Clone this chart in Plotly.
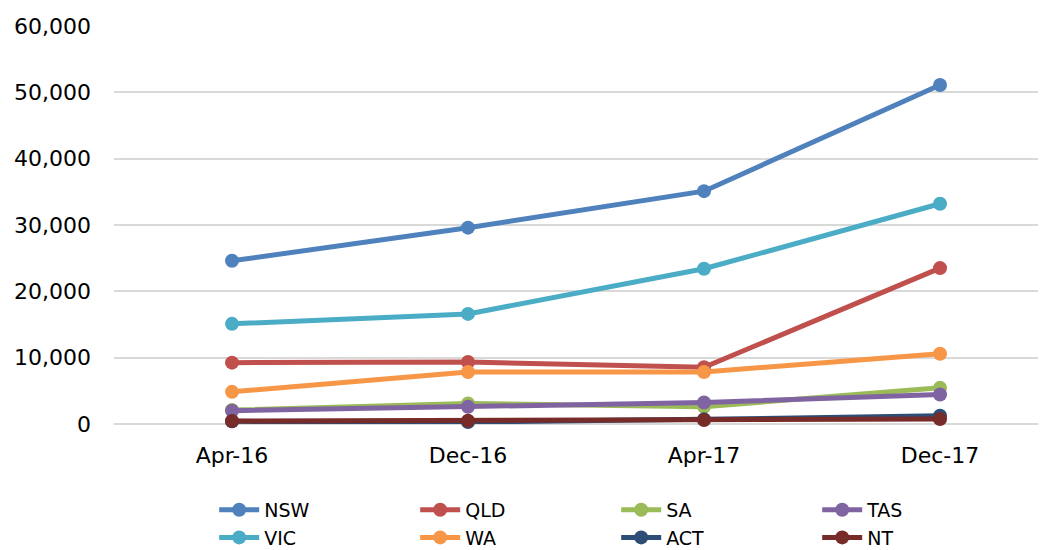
import plotly.graph_objects as go

categories = ["Apr-16", "Dec-16", "Apr-17", "Dec-17"]

NSW = [24600, 29600, 35100, 51100]
QLD = [9250, 9350, 8550, 23500]
SA = [2100, 3100, 2600, 5450]
TAS = [2000, 2600, 3250, 4450]
VIC = [15100, 16600, 23400, 33200]
WA = [4850, 7850, 7850, 10600]
ACT = [400, 300, 700, 1250]
NT = [450, 500, 600, 750]

series = [
    ("NSW", NSW, "#4F81BD"),
    ("QLD", QLD, "#C0504D"),
    ("SA", SA, "#9BBB59"),
    ("TAS", TAS, "#8064A2"),
    ("VIC", VIC, "#4BACC6"),
    ("WA", WA, "#F79646"),
    ("ACT", ACT, "#2C4D75"),
    ("NT", NT, "#772C2A"),
]

fig = go.Figure()
for name, vals, color in series:
    fig.add_trace(go.Scatter(
        x=[0, 1, 2, 3], y=vals, name=name, mode="lines+markers",
        line=dict(color=color, width=5),
        marker=dict(color=color, size=14),
        cliponaxis=False,
    ))

font = dict(family="DejaVu Sans", size=22, color="#000000")
lfont = dict(family="DejaVu Sans", size=19, color="#000000")

fig.update_layout(
    width=1038, height=542,
    margin=dict(l=106, r=0, t=18, b=126, autoexpand=False),
    paper_bgcolor="white", plot_bgcolor="white",
    font=font,
    showlegend=True,
    legend=dict(
        orientation="h", x=0.1075, xanchor="left", y=-0.168, yanchor="top",
        entrywidth=146, entrywidthmode="pixels",
        font=lfont, itemwidth=40, tracegroupgap=0,
    ),
    xaxis=dict(
        range=[-0.5, 3.449], tickmode="array", tickvals=[0, 1, 2, 3],
        ticktext=categories, showgrid=False, zeroline=False, showline=False,
        ticks="", ticklabelstandoff=16, tickfont=font, automargin=False,
    ),
    yaxis=dict(
        range=[0, 60000], tickmode="array",
        tickvals=[0, 10000, 20000, 30000, 40000, 50000, 60000],
        ticktext=["0", "10,000", "20,000", "30,000", "40,000", "50,000", "60,000"],
        showgrid=True, gridcolor="#D9D9D9", gridwidth=2,
        zeroline=True, zerolinecolor="#D9D9D9", zerolinewidth=2,
        showline=False, ticks="", ticklabelstandoff=22, tickfont=font,
        automargin=False,
    ),
)

fig.write_html("out.html")
